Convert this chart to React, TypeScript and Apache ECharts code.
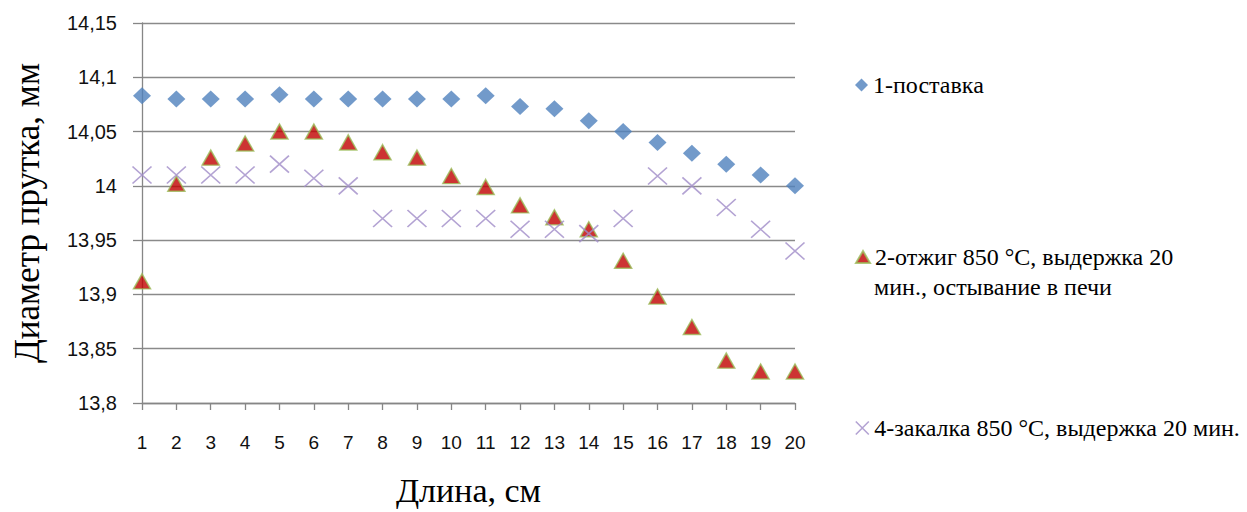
import React, { useEffect, useRef } from "react";
import * as echarts from "echarts";

const lengths = [1, 2, 3, 4, 5, 6, 7, 8, 9, 10, 11, 12, 13, 14, 15, 16, 17, 18, 19, 20];
const supply = [14.083, 14.08, 14.08, 14.08, 14.084, 14.08, 14.08, 14.08, 14.08, 14.08, 14.083, 14.073, 14.071, 14.06, 14.05, 14.04, 14.03, 14.02, 14.01, 14.0];
const annealed = [13.912, 14.002, 14.026, 14.039, 14.05, 14.05, 14.04, 14.031, 14.026, 14.009, 13.999, 13.982, 13.971, 13.96, 13.931, 13.898, 13.87, 13.839, 13.829, 13.829];
const quenched = [14.01, 14.01, 14.01, 14.01, 14.02, 14.007, 14.0, 13.97, 13.97, 13.97, 13.97, 13.96, 13.96, 13.956, 13.97, 14.009, 14.0, 13.98, 13.96, 13.94];

const name1 = "1-поставка";
const name2 = "2-отжиг 850 °C, выдержка 20 мин., остывание в печи";
const name2Line1 = "2-отжиг 850 °C, выдержка 20";
const name2Line2 = "мин., остывание в печи";
const name3 = "4-закалка 850 °C, выдержка 20 мин.";

const xTitle = "Длина, см";
const yTitle = "Диаметр прутка, мм";

const crossPath = "path://M0,0L10,10M10,0L0,10";

const serif = '"Liberation Serif", "Times New Roman", serif';
const sans = '"Liberation Sans", Arial, sans-serif';

export default function App() {
  const ref = useRef<HTMLDivElement>(null);
  useEffect(() => {
    if (!ref.current) return;
    const chart = echarts.init(ref.current, undefined, { renderer: "svg" });
    const pairs = (arr: number[]) => lengths.map((x, i) => [x, arr[i]]);
    const legendText = { fontFamily: serif, fontSize: 24, color: "#000", lineHeight: 24 };
    chart.setOption({
      animation: false,
      backgroundColor: "#ffffff",
      grid: { left: 142, right: 452, top: 23, bottom: 106, containLabel: false },
      xAxis: {
        type: "value",
        min: 1,
        max: 20,
        interval: 1,
        name: xTitle,
        nameLocation: "middle",
        nameGap: 70,
        nameTextStyle: { fontFamily: serif, fontSize: 34, color: "#000" },
        axisLine: { show: true, lineStyle: { color: "#868686", width: 1.3 } },
        axisTick: { show: true, length: 7, lineStyle: { color: "#868686", width: 1.3 } },
        axisLabel: { margin: 30, fontFamily: sans, fontSize: 19, color: "#111" },
        splitLine: { show: false },
      },
      yAxis: {
        type: "value",
        min: 13.8,
        max: 14.15,
        interval: 0.05,
        name: yTitle,
        nameLocation: "middle",
        nameGap: 97,
        nameRotate: 90,
        nameTextStyle: { fontFamily: serif, fontSize: 35, color: "#000" },
        axisLine: { show: true, lineStyle: { color: "#868686", width: 1.3 } },
        axisTick: { show: true, length: 9, lineStyle: { color: "#868686", width: 1.3 } },
        axisLabel: {
          margin: 25,
          fontFamily: sans,
          fontSize: 20,
          color: "#111",
          formatter: (v: number) => String(Number(v.toFixed(2))).replace(".", ","),
        },
        splitLine: { show: true, lineStyle: { color: "#8a8a8a", width: 1.3 } },
      },
      legend: [
        {
          left: 855,
          top: 73,
          padding: 0,
          orient: "vertical",
          itemWidth: 13,
          itemHeight: 13,
          textStyle: legendText,
          data: [{ name: name1, icon: "diamond" }],
        },
        {
          left: 855,
          top: 245,
          padding: 0,
          orient: "vertical",
          itemWidth: 14,
          itemHeight: 12,
          textStyle: legendText,
          formatter: () => name2Line1,
          data: [{ name: name2, icon: "triangle" }],
        },
        {
          left: 855,
          top: 416,
          padding: 0,
          orient: "vertical",
          itemWidth: 14,
          itemHeight: 13,
          textStyle: legendText,
          data: [
            {
              name: name3,
              icon: crossPath,
              itemStyle: { color: "rgba(0,0,0,0)", borderColor: "#a08cc8", borderWidth: 1.6 },
            },
          ],
        },
      ],
      graphic: [
        {
          type: "text",
          left: 874,
          top: 275,
          style: { text: name2Line2, font: `24px ${serif}`, fill: "#000" },
        },
      ],
      series: [
        {
          name: name1,
          type: "scatter",
          symbol: "diamond",
          symbolSize: [18, 17],
          itemStyle: { color: "#4f81bd" },
          data: pairs(supply),
        },
        {
          name: name2,
          type: "scatter",
          symbol: "triangle",
          symbolSize: [17, 15],
          itemStyle: { color: "#c00000", borderColor: "#9bbb59", borderWidth: 1.5 },
          data: pairs(annealed),
        },
        {
          name: name3,
          type: "scatter",
          symbol: crossPath,
          symbolSize: [19, 17],
          itemStyle: { color: "rgba(0,0,0,0)", borderColor: "#a08cc8", borderWidth: 1.6 },
          data: pairs(quenched),
        },
      ],
    });
    return () => chart.dispose();
  }, []);
  return (
    <div
      ref={ref}
      style={{ position: "absolute", left: 0, top: 0, width: 1247, height: 512 }}
    />
  );
}
